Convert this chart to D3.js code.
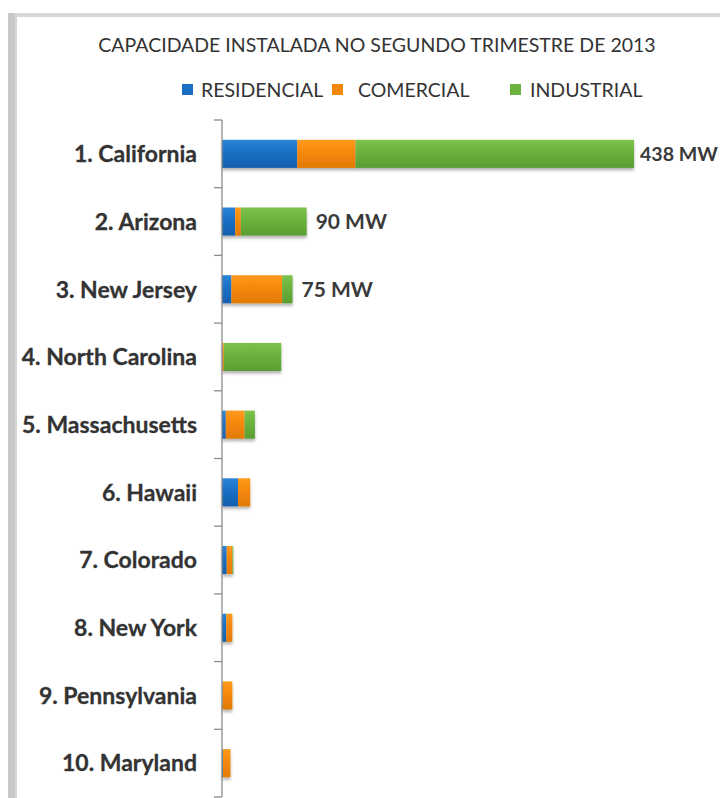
<!DOCTYPE html>
<html>
<head>
<meta charset="utf-8">
<script src="https://cdn.jsdelivr.net/npm/d3@7"></script>
<style>
  html, body { margin: 0; padding: 0; background: #fff; }
  svg { display: block; }
</style>
</head>
<body>
<svg id="chart" width="720" height="798"></svg>
<script>
const categories = ["1. California", "2. Arizona", "3. New Jersey", "4. North Carolina", "5. Massachusetts",
  "6. Hawaii", "7. Colorado", "8. New York", "9. Pennsylvania", "10. Maryland"];
const seriesNames = ["RESIDENCIAL", "COMERCIAL", "INDUSTRIAL"];
const residencial = [80, 14, 10, 0.5, 4, 17, 5, 4.5, 0.5, 1];
const comercial   = [62, 6, 54, 1.5, 20, 13, 6, 6.5, 10.5, 8];
const industrial  = [296, 70, 11, 61, 11, 0, 1, 0, 0, 0];
const labelledCount = 3; // only the top three carry a total label
const unit = "MW";

const seriesColors = {
  RESIDENCIAL: ["#2b85d8", "#1a6fc4", "#155fae"],
  COMERCIAL:   ["#ff9a1f", "#f5880a", "#e07a05"],
  INDUSTRIAL:  ["#7cc24c", "#6ab23e", "#5a9d33"]
};

const rows = categories.map((c, i) => ({
  cat: c, RESIDENCIAL: residencial[i], COMERCIAL: comercial[i], INDUSTRIAL: industrial[i]
}));
const totals = rows.map(r => r.RESIDENCIAL + r.COMERCIAL + r.INDUSTRIAL);

const W = 720;
const svg = d3.select("#chart");
const defs = svg.append("defs");

// panel frame
svg.append("rect").attr("x", 8).attr("y", 13).attr("width", 712).attr("height", 785).attr("fill", "#d6d6d6");
svg.append("rect").attr("x", 8).attr("y", 13).attr("width", 7).attr("height", 785).attr("fill", "#c9c9c9");
svg.append("rect").attr("x", 17).attr("y", 17).attr("width", 703).attr("height", 781).attr("fill", "#ffffff");

// gradients & shadow
seriesNames.forEach(s => {
  const g = defs.append("linearGradient").attr("id", "g-" + s).attr("x1", 0).attr("y1", 0).attr("x2", 0).attr("y2", 1);
  g.append("stop").attr("offset", "0%").attr("stop-color", seriesColors[s][0]);
  g.append("stop").attr("offset", "45%").attr("stop-color", seriesColors[s][1]);
  g.append("stop").attr("offset", "100%").attr("stop-color", seriesColors[s][2]);
});
const f = defs.append("filter").attr("id", "shadow").attr("x", "-10%").attr("y", "-20%").attr("width", "130%").attr("height", "160%");
f.append("feDropShadow").attr("dx", 0).attr("dy", 2.5).attr("stdDeviation", 1.5)
  .attr("flood-color", "#000").attr("flood-opacity", 0.3);

const fontFamily = "Lato, 'Open Sans', sans-serif";

// title
svg.append("text").attr("x", 377).attr("y", 52).attr("text-anchor", "middle")
  .attr("font-family", fontFamily).attr("font-size", 19.5).attr("fill", "#333")
  .text("CAPACIDADE INSTALADA NO SEGUNDO TRIMESTRE DE 2013");

// legend
const legendSquareX = [182, 332, 510];
const legendTextX = [201, 358, 530];
const legend = svg.append("g");
seriesNames.forEach((s, i) => {
  legend.append("rect").attr("x", legendSquareX[i]).attr("y", 84).attr("width", 11).attr("height", 11)
    .attr("fill", seriesColors[s][1]);
  legend.append("text").attr("x", legendTextX[i]).attr("y", 97)
    .attr("font-family", fontFamily).attr("font-size", 19.5).attr("fill", "#333").text(s);
});

// scales
const y = d3.scaleBand().domain(categories).range([120, 797]).paddingInner(0.585).paddingOuter(0.2925);
const x = d3.scaleLinear().domain([0, d3.max(totals)]).range([222, 634]);

const stack = d3.stack().keys(seriesNames);
const stacked = stack(rows);

const bars = svg.append("g").attr("filter", "url(#shadow)");
stacked.forEach(layer => {
  bars.selectAll(null).data(layer).join("rect")
    .attr("x", d => x(d[0]))
    .attr("y", d => y(d.data.cat))
    .attr("width", d => Math.max(0, x(d[1]) - x(d[0])))
    .attr("height", y.bandwidth())
    .attr("fill", "url(#g-" + layer.key + ")");
});

// axis
const axisColor = "#8c8c8c";
const axisG = svg.append("g").attr("transform", "translate(222,0)");
axisG.append("line").attr("x1", 0).attr("x2", 0).attr("y1", 120).attr("y2", 797)
  .attr("stroke", axisColor).attr("stroke-width", 1.3);
const boundaries = categories.map(c => y(c) - (y.step() - y.bandwidth()) / 2).concat([797]);
axisG.selectAll(".tk").data(boundaries).join("line")
  .attr("x1", -8).attr("x2", 0).attr("y1", d => d).attr("y2", d => d)
  .attr("stroke", axisColor).attr("stroke-width", 1.3);

const labelAxis = svg.append("g").attr("transform", "translate(222,0)")
  .call(d3.axisLeft(y).tickSize(0).tickPadding(25));
labelAxis.select(".domain").remove();
labelAxis.selectAll("text")
  .attr("font-family", fontFamily).attr("font-size", 23).attr("font-weight", 700)
  .attr("fill", "#333").attr("stroke", "#333").attr("stroke-width", 0.3).attr("dy", "0.36em");

// value labels (shrunk if needed so they stay inside the right edge)
const baseSize = 21;
svg.append("g").selectAll("text").data(rows.slice(0, labelledCount)).join("text")
  .attr("y", d => y(d.cat) + y.bandwidth() / 2)
  .attr("dy", "0.36em")
  .attr("font-family", fontFamily).attr("font-size", baseSize).attr("font-weight", 700).attr("fill", "#3a3a3a")
  .text((d, i) => d3.format("d")(totals[i]) + " " + unit)
  .each(function (d, i) {
    const el = d3.select(this);
    let start = x(totals[i]) + 9;
    const w = this.getComputedTextLength();
    if (start + w > W - 2) {
      start = x(totals[i]) + 6;
      el.attr("font-size", baseSize * (W - 2 - start) / w);
    }
    el.attr("x", start);
  });
</script>
</body>
</html>
